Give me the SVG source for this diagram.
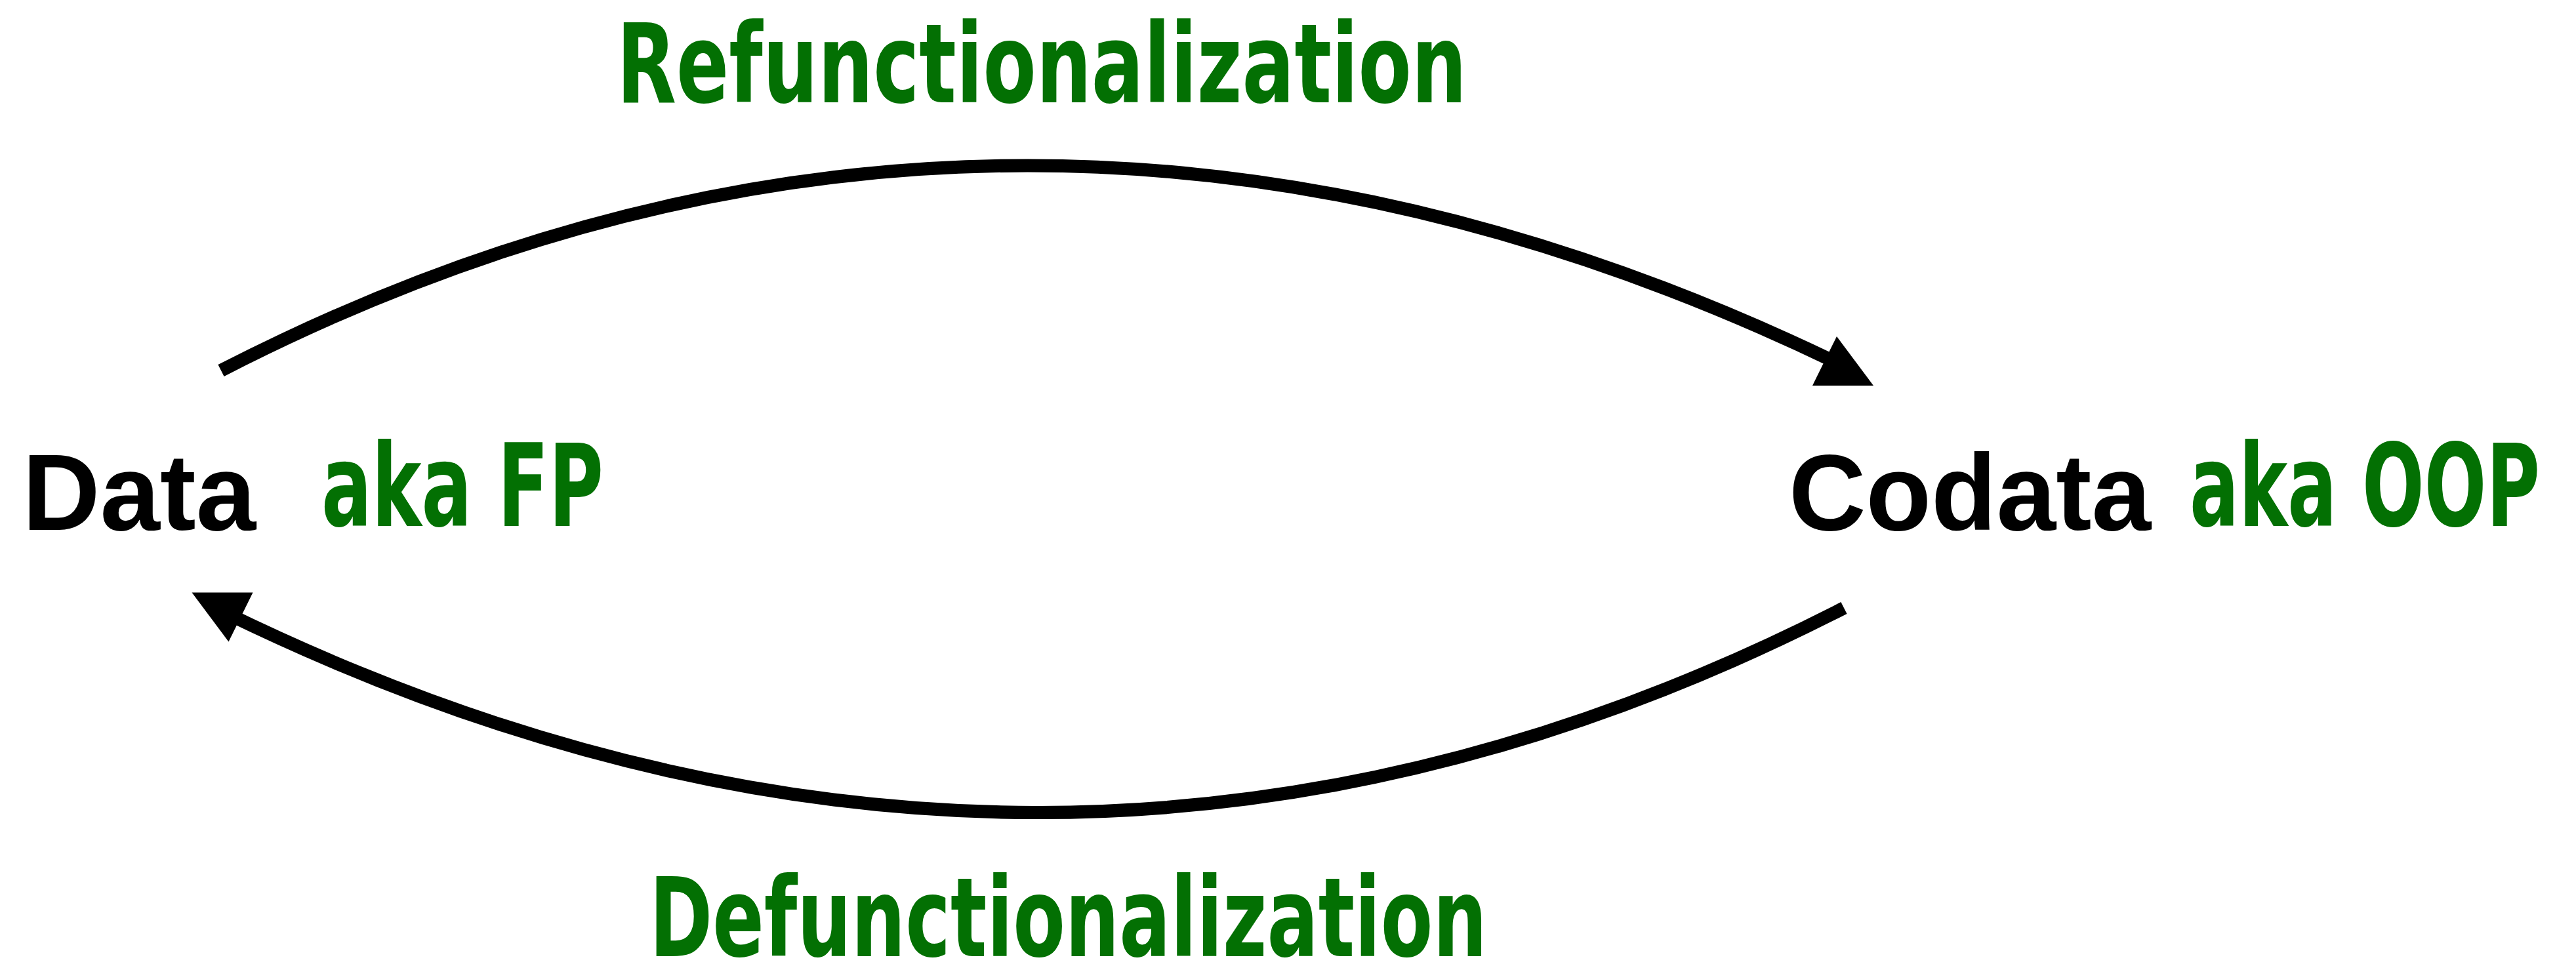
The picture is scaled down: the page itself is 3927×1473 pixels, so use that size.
<svg xmlns="http://www.w3.org/2000/svg" xmlns:xlink="http://www.w3.org/1999/xlink" width="3927" height="1473" viewBox="0 0 3927 1473">
  <style>
    .node { font-family: "Liberation Sans", Arial, Helvetica, sans-serif; font-weight: bold; font-size: 166px; fill: #000000; }
    .hand { font-family: "DejaVu Sans", "Liberation Sans", sans-serif; font-weight: bold; font-size: 174px; fill: #037003; }
    .label { font-family: "DejaVu Sans", "Liberation Sans", sans-serif; font-weight: bold; font-size: 168px; fill: #037003; }
    .edge { fill: none; stroke: #000000; stroke-width: 20; stroke-linecap: butt; }
    .head { fill: #000000; stroke: none; }
  </style>
  <defs>
    <path id="arrowhead" class="head" d="M-9.5,-37.5 L46.5,37.5 L-46.5,37.5 Z"/>
  </defs>
  <rect x="0" y="0" width="3927" height="1473" fill="#ffffff"/>

  <g id="node-data">
    <text class="node" x="34" y="808" textLength="356" lengthAdjust="spacingAndGlyphs">Data</text>
    <text class="hand" x="490" y="802" textLength="430" lengthAdjust="spacingAndGlyphs">aka FP</text>
  </g>

  <g id="node-codata">
    <text class="node" x="2727" y="808" textLength="552" lengthAdjust="spacingAndGlyphs">Codata</text>
    <text class="hand" x="3338" y="802" textLength="534" lengthAdjust="spacingAndGlyphs">aka OOP</text>
  </g>

  <g id="connectors">
    <g id="edge-refunctionalization">
      <path class="edge" d="M337,565 Q1541,-54 2800,553"/>
      <use xlink:href="#arrowhead" href="#arrowhead" transform="translate(2809.5,550.5)"/>
      <text class="label" x="940" y="156" textLength="1296" lengthAdjust="spacingAndGlyphs">Refunctionalization</text>
    </g>
    <g id="edge-defunctionalization">
      <path class="edge" d="M2811,927 Q1602,1547 345,935"/>
      <use xlink:href="#arrowhead" href="#arrowhead" transform="translate(339,941) rotate(180)"/>
      <text class="label" x="990" y="1458" textLength="1277" lengthAdjust="spacingAndGlyphs">Defunctionalization</text>
    </g>
  </g>
</svg>
